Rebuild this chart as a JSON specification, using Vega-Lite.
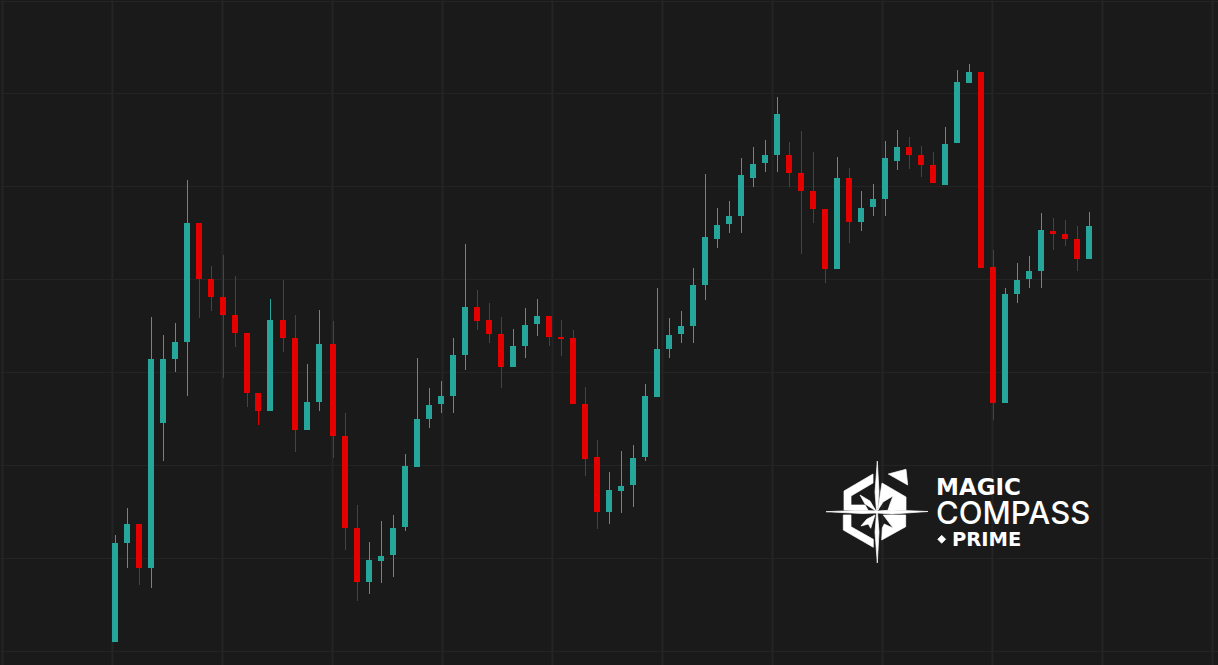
{"$schema":"https://vega.github.io/schema/vega-lite/v6.json","width":1218,"height":665,"autosize":"none","padding":0,"background":"#1a1a1a","config":{"view":{"stroke":null}},"datasets":{"candles":[
{"t":0,"open":23,"high":130,"low":23,"close":122},{"t":12,"open":122,"high":157,"low":97,"close":141},{"t":24,"open":141,"high":141,"low":80,"close":97},{"t":36,"open":97,"high":348,"low":77,"close":306},{"t":48,"open":242,"high":330,"low":204,"close":306},{"t":60,"open":306,"high":342,"low":293,"close":323},{"t":72,"open":323,"high":485,"low":269,"close":442},{"t":84,"open":442,"high":442,"low":347,"close":386},{"t":96,"open":386,"high":399,"low":354,"close":368},{"t":108,"open":368,"high":410,"low":287,"close":350},{"t":120,"open":350,"high":389,"low":318,"close":332},{"t":132,"open":332,"high":332,"low":258,"close":272},{"t":143,"open":272,"high":272,"low":240,"close":254},{"t":155,"open":254,"high":366,"low":254,"close":345},{"t":168,"open":345,"high":385,"low":313,"close":327},{"t":180,"open":327,"high":350,"low":213,"close":235},{"t":192,"open":235,"high":301,"low":235,"close":263},{"t":204,"open":263,"high":355,"low":254,"close":321},{"t":218,"open":321,"high":344,"low":207,"close":229},{"t":230,"open":229,"high":252,"low":115,"close":137},{"t":242,"open":137,"high":160,"low":64,"close":83},{"t":254,"open":83,"high":123,"low":71,"close":105},{"t":266,"open":104,"high":144,"low":82,"close":109},{"t":278,"open":110,"high":150,"low":88,"close":137},{"t":290,"open":138,"high":211,"low":134,"close":199},{"t":302,"open":198,"high":307,"low":198,"close":246},{"t":314,"open":246,"high":277,"low":237,"close":260},{"t":326,"open":261,"high":284,"low":252,"close":269},{"t":338,"open":269,"high":327,"low":252,"close":310},{"t":350,"open":310,"high":421,"low":295,"close":358},{"t":362,"open":358,"high":375,"low":335,"close":344},{"t":374,"open":345,"high":362,"low":322,"close":331},{"t":386,"open":331,"high":348,"low":277,"close":298},{"t":398,"open":298,"high":336,"low":298,"close":319},{"t":410,"open":319,"high":357,"low":307,"close":340},{"t":422,"open":341,"high":366,"low":329,"close":349},{"t":434,"open":349,"high":349,"low":319,"close":328},{"t":446,"open":328,"high":345,"low":309,"close":326},{"t":458,"open":327,"high":335,"low":261,"close":261},{"t":470,"open":261,"high":278,"low":189,"close":206},{"t":482,"open":208,"high":225,"low":136,"close":153},{"t":494,"open":153,"high":193,"low":141,"close":175},{"t":506,"open":174,"high":214,"low":152,"close":179},{"t":518,"open":180,"high":220,"low":158,"close":207},{"t":530,"open":208,"high":281,"low":204,"close":269},{"t":542,"open":268,"high":377,"low":268,"close":316},{"t":554,"open":316,"high":347,"low":307,"close":330},{"t":566,"open":331,"high":354,"low":322,"close":339},{"t":578,"open":339,"high":397,"low":322,"close":380},{"t":590,"open":380,"high":491,"low":365,"close":428},{"t":602,"open":426,"high":457,"low":417,"close":440},{"t":614,"open":441,"high":464,"low":432,"close":449},{"t":626,"open":449,"high":507,"low":432,"close":490},{"t":638,"open":487,"high":518,"low":478,"close":501},{"t":650,"open":502,"high":525,"low":493,"close":510},{"t":662,"open":510,"high":568,"low":493,"close":551},{"t":674,"open":510,"high":523,"low":478,"close":492},{"t":686,"open":492,"high":534,"low":411,"close":474},{"t":698,"open":474,"high":513,"low":442,"close":456},{"t":710,"open":456,"high":456,"low":382,"close":396},{"t":722,"open":396,"high":508,"low":396,"close":487},{"t":734,"open":487,"high":497,"low":422,"close":443},{"t":746,"open":443,"high":474,"low":434,"close":457},{"t":758,"open":458,"high":481,"low":449,"close":466},{"t":770,"open":466,"high":524,"low":449,"close":507},{"t":782,"open":504,"high":535,"low":495,"close":518},{"t":794,"open":518,"high":528,"low":496,"close":510},{"t":806,"open":510,"high":519,"low":488,"close":500},{"t":818,"open":500,"high":513,"low":482,"close":482},{"t":830,"open":480,"high":538,"low":480,"close":521},{"t":842,"open":522,"high":595,"low":522,"close":583},{"t":854,"open":582,"high":601,"low":582,"close":593},{"t":866,"open":593,"high":593,"low":397,"close":397},{"t":878,"open":398,"high":415,"low":245,"close":262},{"t":890,"open":262,"high":377,"low":262,"close":371},{"t":902,"open":371,"high":402,"low":362,"close":385},{"t":914,"open":386,"high":409,"low":377,"close":394},{"t":926,"open":394,"high":452,"low":377,"close":435},{"t":938,"open":434,"high":447,"low":415,"close":431},{"t":950,"open":431,"high":445,"low":419,"close":426},{"t":962,"open":426,"high":439,"low":394,"close":406},{"t":974,"open":406,"high":453,"low":406,"close":439}
],"logoText":[{"label":"MAGIC","t":821,"price":170,"w":"bold"},{"label":"COMPASS","t":821,"price":141,"w":"normal"},{"label":"PRIME","t":837,"price":119,"w":"bold"}],"emblem":[{"t":762,"price":153}]},
"layer":[
{"data":{"name":"candles"},"mark":{"type":"rule","strokeWidth":1,"xOffset":0.5},"encoding":{"x":{"field":"t","type":"quantitative","scale":{"domain":[-115,1103],"nice":false,"zero":false,"padding":0},"axis":{"values":[-113,-3,107,217,327,437,547,657,767,877,987,1097],"grid":true,"gridColor":"#242424","gridWidth":2,"labels":false,"ticks":false,"domain":false,"title":null}},"y":{"field":"low","type":"quantitative","scale":{"domain":[0,665],"nice":false,"zero":false},"axis":{"values":[664,572,479,386,293,200,107,14],"grid":true,"gridColor":"#242424","gridWidth":1,"labels":false,"ticks":false,"domain":false,"title":null}},"y2":{"field":"high"},"color":{"condition":{"test":"datum.close>=datum.open","value":"#26a69a"},"value":"#e50000"}}},
{"data":{"name":"candles"},"mark":{"type":"bar","size":6},"encoding":{"x":{"field":"t","type":"quantitative"},"y":{"field":"open","type":"quantitative"},"y2":{"field":"close"},"color":{"condition":{"test":"datum.close>=datum.open","value":"#26a69a"},"value":"#e50000"}}},
{"data":{"name":"emblem"},"mark":{"type":"point","filled":true,"opacity":1,"size":4,"color":"#ffffff","stroke":"#ffffff","strokeWidth":0.7,"shape":"M0.3,-51 L-2,-20 L-0.5,-1 L-15,-1.8 L-51,-0.3 L-15,1.5 L-0.5,1 L-2,20 L0.3,51 L2,20 L0.5,1 L15,2 L51,-0.5 L15,-2 L0.5,-1 L2,-20 Z M-4,-38 L-33,-21 L-33,-2 L-9,-2 L-12,-7 L-26,-7 L-26,-16 L-4,-29 Z M-1,-1 L-12,-8 L-17,-17 L-7,-11 Z M5,-29 L29,-15 L29,-2 L11,-2 L13,-8 L16,-16 L6,-10 L1,-2 L3,-16 Z M11.3,-38 L29,-42.7 L30.7,-27 Z M-33.7,3 L-33.7,18 L-3.7,35.3 L-3.7,27.3 L-26,14.7 L-26,3 Z M-16,14 L-10.3,7.3 L-2,3 L-6.3,16.3 L-8.7,12 Z M4.7,28 L28.7,14.7 L28.7,3 L6.3,3 L16.3,16.3 L7.3,12 L5.3,16 Z M60.7,27.3 L64.7,23.3 L68.7,27.3 L64.7,31.3 Z"},"encoding":{"x":{"field":"t","type":"quantitative"},"y":{"field":"price","type":"quantitative"}}},
{"data":{"name":"logoText"},"transform":[{"filter":"datum.w==='bold'"}],"mark":{"type":"text","align":"left","baseline":"alphabetic","font":"DejaVu Sans","fontWeight":700,"color":"#ffffff"},"encoding":{"x":{"field":"t","type":"quantitative"},"y":{"field":"price","type":"quantitative"},"text":{"field":"label"},"size":{"condition":{"test":"datum.label==='MAGIC'","value":23},"value":19.5}}},
{"data":{"name":"logoText"},"transform":[{"filter":"datum.w==='normal'"}],"mark":{"type":"text","align":"left","baseline":"alphabetic","font":"Inter","fontWeight":500,"fontSize":31,"color":"#ffffff"},"encoding":{"x":{"field":"t","type":"quantitative"},"y":{"field":"price","type":"quantitative"},"text":{"field":"label"}}}
]}
